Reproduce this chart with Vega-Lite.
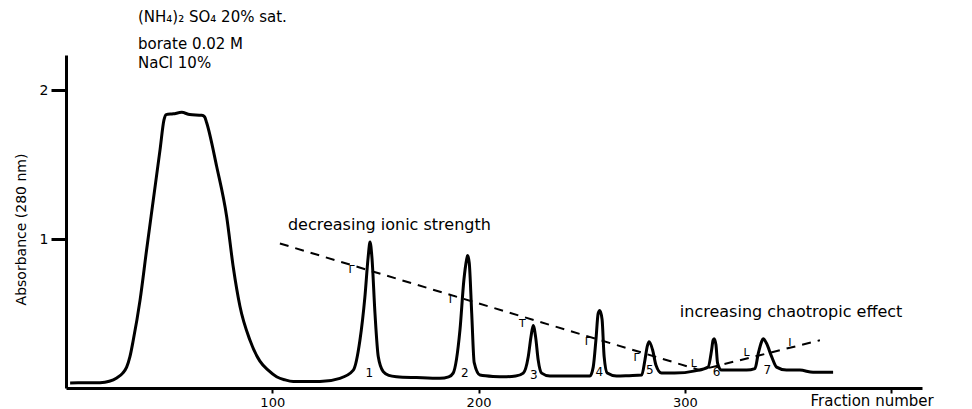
{
  "$schema": "https://vega.github.io/schema/vega-lite/v6.json",
  "width": 856,
  "height": 333,
  "autosize": {"type": "none"},
  "padding": {"left": 66, "top": 55, "right": 50, "bottom": 21},
  "background": "white",
  "config": {
    "view": {"stroke": null},
    "font": "DejaVu Sans",
    "axis": {"grid": false, "domainColor": "black", "tickColor": "black", "labelColor": "black", "titleColor": "black", "labelFont": "DejaVu Sans", "titleFont": "DejaVu Sans", "titleFontWeight": "normal"}
  },
  "datasets": {
    "curve": [
      {"fraction": 2, "absorbance": 0.034}, {"fraction": 10, "absorbance": 0.035}, {"fraction": 16.5, "absorbance": 0.036},
      {"fraction": 21, "absorbance": 0.045}, {"fraction": 24.6, "absorbance": 0.067}, {"fraction": 27.5, "absorbance": 0.1},
      {"fraction": 29.4, "absorbance": 0.14}, {"fraction": 31, "absorbance": 0.21}, {"fraction": 32.6, "absorbance": 0.32},
      {"fraction": 35.9, "absorbance": 0.59}, {"fraction": 39.1, "absorbance": 0.93}, {"fraction": 42.3, "absorbance": 1.26},
      {"fraction": 45.6, "absorbance": 1.6}, {"fraction": 47.5, "absorbance": 1.8}, {"fraction": 48.5, "absorbance": 1.835},
      {"fraction": 52, "absorbance": 1.84}, {"fraction": 56.1, "absorbance": 1.85}, {"fraction": 60, "absorbance": 1.835},
      {"fraction": 65.8, "absorbance": 1.83}, {"fraction": 67.2, "absorbance": 1.82}, {"fraction": 68.2, "absorbance": 1.78},
      {"fraction": 73, "absorbance": 1.49}, {"fraction": 77.9, "absorbance": 1.15}, {"fraction": 81.1, "absorbance": 0.81},
      {"fraction": 84.3, "absorbance": 0.55}, {"fraction": 89.2, "absorbance": 0.32}, {"fraction": 94, "absorbance": 0.18},
      {"fraction": 98, "absorbance": 0.12}, {"fraction": 102.1, "absorbance": 0.076}, {"fraction": 106, "absorbance": 0.055},
      {"fraction": 110.2, "absorbance": 0.043}, {"fraction": 123.1, "absorbance": 0.043}, {"fraction": 132.8, "absorbance": 0.065},
      {"fraction": 139.3, "absorbance": 0.12}, {"fraction": 142.5, "absorbance": 0.32}, {"fraction": 144.9, "absorbance": 0.61},
      {"fraction": 146.5, "absorbance": 0.88}, {"fraction": 147.4, "absorbance": 0.98}, {"fraction": 148.3, "absorbance": 0.88},
      {"fraction": 149.8, "absorbance": 0.5}, {"fraction": 151.4, "absorbance": 0.21}, {"fraction": 153.8, "absorbance": 0.11},
      {"fraction": 156.5, "absorbance": 0.085}, {"fraction": 160.3, "absorbance": 0.076}, {"fraction": 170, "absorbance": 0.07},
      {"fraction": 181.3, "absorbance": 0.065}, {"fraction": 185.5, "absorbance": 0.075}, {"fraction": 187.7, "absorbance": 0.1},
      {"fraction": 191, "absorbance": 0.39}, {"fraction": 192.9, "absorbance": 0.725}, {"fraction": 194.2, "absorbance": 0.86},
      {"fraction": 194.7, "absorbance": 0.89}, {"fraction": 195.5, "absorbance": 0.84}, {"fraction": 196.7, "absorbance": 0.5},
      {"fraction": 197.9, "absorbance": 0.17}, {"fraction": 200.7, "absorbance": 0.087}, {"fraction": 207, "absorbance": 0.078},
      {"fraction": 213.6, "absorbance": 0.076}, {"fraction": 218, "absorbance": 0.08}, {"fraction": 221.7, "absorbance": 0.1},
      {"fraction": 224.1, "absorbance": 0.21}, {"fraction": 225.4, "absorbance": 0.34}, {"fraction": 226.5, "absorbance": 0.42},
      {"fraction": 227.7, "absorbance": 0.34}, {"fraction": 228.9, "absorbance": 0.19}, {"fraction": 230.6, "absorbance": 0.1},
      {"fraction": 234.6, "absorbance": 0.08}, {"fraction": 245, "absorbance": 0.08}, {"fraction": 254, "absorbance": 0.08},
      {"fraction": 255.6, "absorbance": 0.14}, {"fraction": 256.9, "absorbance": 0.32}, {"fraction": 258, "absorbance": 0.5},
      {"fraction": 258.8, "absorbance": 0.52}, {"fraction": 259.9, "absorbance": 0.46}, {"fraction": 260.9, "absorbance": 0.21},
      {"fraction": 262.4, "absorbance": 0.1}, {"fraction": 266.9, "absorbance": 0.08}, {"fraction": 273, "absorbance": 0.083},
      {"fraction": 279.1, "absorbance": 0.087}, {"fraction": 280.7, "absorbance": 0.19}, {"fraction": 281.8, "absorbance": 0.28},
      {"fraction": 282.7, "absorbance": 0.31}, {"fraction": 284.4, "absorbance": 0.255}, {"fraction": 286, "absorbance": 0.154},
      {"fraction": 288.7, "absorbance": 0.1}, {"fraction": 295, "absorbance": 0.1}, {"fraction": 305, "absorbance": 0.115},
      {"fraction": 311.3, "absorbance": 0.14}, {"fraction": 313, "absorbance": 0.255}, {"fraction": 313.7, "absorbance": 0.32},
      {"fraction": 314.2, "absorbance": 0.33}, {"fraction": 315.1, "absorbance": 0.29}, {"fraction": 315.9, "absorbance": 0.166},
      {"fraction": 317.8, "absorbance": 0.12}, {"fraction": 324, "absorbance": 0.12}, {"fraction": 330, "absorbance": 0.12},
      {"fraction": 334, "absorbance": 0.13}, {"fraction": 335.6, "absorbance": 0.23}, {"fraction": 337.2, "absorbance": 0.31},
      {"fraction": 338, "absorbance": 0.33}, {"fraction": 339.6, "absorbance": 0.3}, {"fraction": 342.1, "absorbance": 0.21},
      {"fraction": 344.5, "absorbance": 0.14}, {"fraction": 349.3, "absorbance": 0.12}, {"fraction": 355.8, "absorbance": 0.12},
      {"fraction": 362.2, "absorbance": 0.105}, {"fraction": 371.9, "absorbance": 0.105}
    ],
    "gradient": [
      {"fraction": 103.7, "absorbance": 0.97},
      {"fraction": 307.3, "absorbance": 0.12},
      {"fraction": 365.5, "absorbance": 0.32}
    ],
    "marks": [
      {"fraction": 138.5, "absorbance": 0.79, "glyph": "Γ"},
      {"fraction": 187.0, "absorbance": 0.59, "glyph": "Γ"},
      {"fraction": 221.2, "absorbance": 0.43, "glyph": "T"},
      {"fraction": 253.0, "absorbance": 0.31, "glyph": "Γ"},
      {"fraction": 276.6, "absorbance": 0.2, "glyph": "Γ"},
      {"fraction": 304.4, "absorbance": 0.16, "glyph": "L"},
      {"fraction": 330.0, "absorbance": 0.235, "glyph": "L"},
      {"fraction": 350.9, "absorbance": 0.3, "glyph": "I"}
    ],
    "peaks": [
      {"fraction": 147, "absorbance": 0.1, "label": "1"},
      {"fraction": 193.4, "absorbance": 0.1, "label": "2"},
      {"fraction": 226.8, "absorbance": 0.087, "label": "3"},
      {"fraction": 258.5, "absorbance": 0.11, "label": "4"},
      {"fraction": 283.1, "absorbance": 0.12, "label": "5"},
      {"fraction": 315.4, "absorbance": 0.11, "label": "6"},
      {"fraction": 340, "absorbance": 0.12, "label": "7"}
    ],
    "notes": [
      {"fraction": 34.9, "absorbance": 2.456, "text": "(NH₄)₂ SO₄   20% sat.", "size": 15},
      {"fraction": 34.9, "absorbance": 2.275, "text": "borate 0.02 M", "size": 15},
      {"fraction": 34.9, "absorbance": 2.148, "text": "NaCl 10%", "size": 15},
      {"fraction": 107.6, "absorbance": 1.06, "text": "decreasing ionic strength", "size": 16},
      {"fraction": 297.6, "absorbance": 0.475, "text": "increasing chaotropic effect", "size": 16}
    ]
  },
  "layer": [
    {
      "data": {"name": "curve"},
      "mark": {"type": "line", "color": "black", "strokeWidth": 3, "interpolate": "monotone", "strokeJoin": "round"},
      "encoding": {
        "x": {"field": "fraction", "type": "quantitative", "scale": {"domain": [0, 415], "nice": false},
          "axis": {"values": [100, 200, 300, 400], "labelExpr": "datum.value == 400 ? '' : datum.label", "domainWidth": 3, "tickWidth": 2, "tickSize": 5, "labelPadding": 3, "labelFontSize": 13,
            "title": "Fraction number", "titleFontSize": 15, "titleX": 744, "titleY": 17, "titleAlign": "left", "titleBaseline": "alphabetic", "titleAnchor": null}},
        "y": {"field": "absorbance", "type": "quantitative", "scale": {"domain": [0, 2.235], "nice": false},
          "axis": {"values": [1, 2], "format": "d", "domainWidth": 3, "tickWidth": 3, "tickSize": 15, "labelPadding": 3, "labelFontSize": 14,
            "title": "Absorbance (280 nm)", "titleFontSize": 14, "titleAngle": -90, "titleX": -41, "titleY": 174, "titleAlign": "center", "titleBaseline": "alphabetic"}}
      }
    },
    {
      "data": {"name": "gradient"},
      "mark": {"type": "line", "color": "black", "strokeWidth": 2, "strokeDash": [9, 7]},
      "encoding": {
        "x": {"field": "fraction", "type": "quantitative"},
        "y": {"field": "absorbance", "type": "quantitative"}
      }
    },
    {
      "data": {"name": "marks"},
      "mark": {"type": "text", "fill": "#000000", "color": "#000000", "fontSize": 11, "baseline": "middle", "align": "center"},
      "encoding": {
        "x": {"field": "fraction", "type": "quantitative"},
        "y": {"field": "absorbance", "type": "quantitative"},
        "text": {"field": "glyph"}
      }
    },
    {
      "data": {"name": "peaks"},
      "mark": {"type": "text", "fill": "#000000", "fontSize": 12, "baseline": "middle", "align": "center"},
      "encoding": {
        "x": {"field": "fraction", "type": "quantitative"},
        "y": {"field": "absorbance", "type": "quantitative"},
        "text": {"field": "label"}
      }
    },
    {
      "data": {"name": "notes"},
      "mark": {"type": "text", "fill": "#000000", "baseline": "alphabetic", "align": "left"},
      "encoding": {
        "x": {"field": "fraction", "type": "quantitative"},
        "y": {"field": "absorbance", "type": "quantitative"},
        "text": {"field": "text"},
        "size": {"field": "size", "type": "quantitative", "scale": null}
      }
    }
  ]
}
